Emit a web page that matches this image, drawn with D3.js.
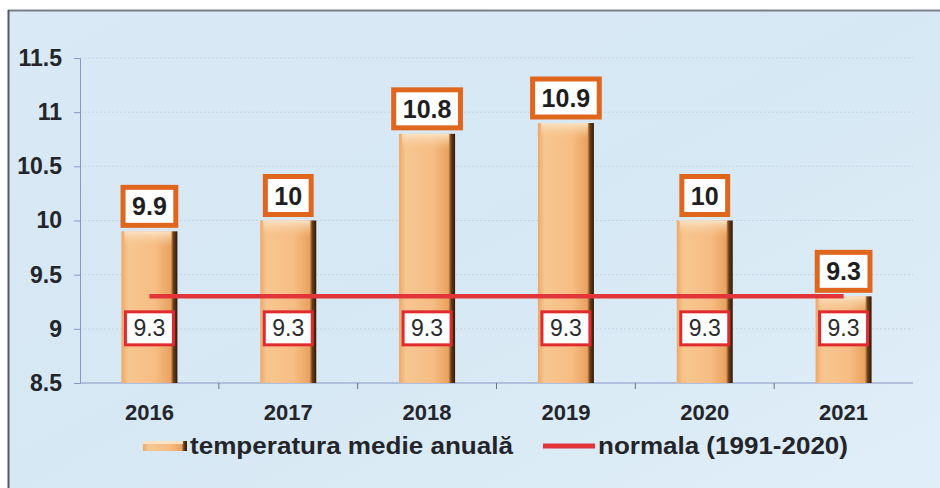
<!DOCTYPE html>
<html><head><meta charset="utf-8">
<script src="https://cdn.jsdelivr.net/npm/d3@7"></script>
<style>
html,body{margin:0;padding:0;background:#fff;}
svg{display:block;}
</style></head>
<body>
<svg id="chart" width="940" height="488"></svg>
<script>
const years = ["2016","2017","2018","2019","2020","2021"];
const tempValues = [9.9, 10, 10.8, 10.9, 10, 9.3];
const normalValues = [9.3, 9.3, 9.3, 9.3, 9.3, 9.3];
const yTicks = [8.5, 9, 9.5, 10, 10.5, 11, 11.5];
const seriesNames = ["temperatura medie anuală", "normala (1991-2020)"];

const FONT = "Liberation Sans, Arial, sans-serif";
const svg = d3.select("#chart");
const W = 940, H = 488;
const m = {left: 80, right: 27, top: 58, bottom: 105};
const xc = d3.scaleBand().domain(years).range([m.left, W - m.right]);
const y = d3.scaleLinear().domain([8.5, 11.5]).range([H - m.bottom, m.top]);

const defs = svg.append("defs");
const bg = defs.append("linearGradient").attr("id","bg").attr("x1",0).attr("y1",0).attr("x2",1).attr("y2",1);
bg.append("stop").attr("offset","0%").attr("stop-color","#d9e9f5");
bg.append("stop").attr("offset","50%").attr("stop-color","#d6e8f4");
bg.append("stop").attr("offset","100%").attr("stop-color","#e0eef8");
const bar = defs.append("linearGradient").attr("id","bar").attr("x1",0).attr("y1",0).attr("x2",1).attr("y2",0);
bar.append("stop").attr("offset","0%").attr("stop-color","#eea868");
bar.append("stop").attr("offset","12%").attr("stop-color","#f7c690");
bar.append("stop").attr("offset","60%").attr("stop-color","#f6bd84");
bar.append("stop").attr("offset","88%").attr("stop-color","#e9a260");
bar.append("stop").attr("offset","93%").attr("stop-color","#6a3d18");
bar.append("stop").attr("offset","100%").attr("stop-color","#2e1a08");
const barTop = defs.append("linearGradient").attr("id","barTop").attr("x1",0).attr("y1",0).attr("x2",0).attr("y2",1);
barTop.append("stop").attr("offset","0%").attr("stop-color","#fbe2c4");
barTop.append("stop").attr("offset","100%").attr("stop-color","#f7c690").attr("stop-opacity",0);

// background + frame
svg.append("rect").attr("x",0).attr("y",0).attr("width",W).attr("height",H).attr("fill","#fff");
svg.append("rect").attr("x",8).attr("y",10).attr("width",W-8).attr("height",H-10).attr("fill","url(#bg)");
svg.append("line").attr("x1",8).attr("x2",W).attr("y1",10.5).attr("y2",10.5).attr("stroke","#7a7f88").attr("stroke-width",2);
svg.append("line").attr("x1",8.5).attr("x2",8.5).attr("y1",10).attr("y2",H).attr("stroke","#555a60").attr("stroke-width",2);

// gridlines
svg.append("g").selectAll("line").data(yTicks.slice(1)).join("line")
  .attr("x1", m.left).attr("x2", W - m.right)
  .attr("y1", d => y(d)).attr("y2", d => y(d))
  .attr("stroke", "#c4d2e6").attr("stroke-width", 1).attr("stroke-dasharray","2,2");

// y axis
const yAxis = d3.axisLeft(y).tickValues(yTicks).tickSize(6).tickFormat(d => String(d));
const gy = svg.append("g").attr("transform", `translate(${m.left},0)`).call(yAxis);
gy.select(".domain").attr("stroke","#8a96c8");
gy.selectAll(".tick line").attr("stroke","#8a96c8");
gy.selectAll(".tick text").attr("x",-18).attr("font-family",FONT)
  .attr("font-size",23).attr("font-weight","bold").attr("fill","#23252b");

// x axis
const gx = svg.append("g").attr("transform", `translate(0,${H - m.bottom})`);
gx.append("line").attr("x1", m.left).attr("x2", W - m.right).attr("stroke","#8a96c8").attr("stroke-width",1.2);
gx.selectAll("line.tk").data(years.slice(1)).join("line").attr("class","tk")
  .attr("x1", d => xc(d)).attr("x2", d => xc(d)).attr("y1",0).attr("y2",6).attr("stroke","#6a7080");
gx.selectAll("text").data(years).join("text")
  .attr("x", d => xc(d) + xc.bandwidth()/2).attr("y", 37)
  .attr("text-anchor","middle").attr("font-family",FONT)
  .attr("font-size",22).attr("font-weight","bold").attr("fill","#23252b").text(d => d);

// bars
const bw = 56;
const bars = svg.append("g").selectAll("g").data(years).join("g");
bars.append("rect")
  .attr("x", (d) => xc(d) + xc.bandwidth()/2 - bw/2)
  .attr("y", (d,i) => y(tempValues[i]))
  .attr("width", bw)
  .attr("height", (d,i) => y(8.5) - y(tempValues[i]))
  .attr("fill","url(#bar)");
bars.append("rect")
  .attr("x", (d) => xc(d) + xc.bandwidth()/2 - bw/2 + 3)
  .attr("y", (d,i) => y(tempValues[i]))
  .attr("width", bw - 9)
  .attr("height", 16)
  .attr("fill","url(#barTop)");

// normal line
const line = d3.line().x((d,i) => xc(years[i]) + xc.bandwidth()/2).y(d => y(d));
svg.append("path").datum(normalValues).attr("d", line)
  .attr("fill","none").attr("stroke","#e2353a").attr("stroke-width",4.5);

// labels helper
function labelBox(g, cx, cy, txt, opts) {
  const t = g.append("text").attr("x", cx).attr("y", cy).attr("text-anchor","middle")
    .attr("dominant-baseline","central").attr("font-family",FONT)
    .attr("font-size", opts.size).attr("font-weight", opts.weight).attr("fill", opts.color).text(txt);
  const bb = t.node().getBBox();
  const w = Math.max(bb.width + opts.padX*2, opts.minW);
  g.insert("rect", "text").attr("x", cx - w/2).attr("y", cy - opts.h/2).attr("width", w).attr("height", opts.h)
    .attr("fill","#fff").attr("stroke", opts.stroke).attr("stroke-width", opts.sw);
}
const lg = svg.append("g");
years.forEach((yr, i) => {
  const cx = xc(yr) + xc.bandwidth()/2;
  const g = lg.append("g");
  labelBox(g, cx, y(tempValues[i]) - 25, String(tempValues[i]),
    {size: 25, weight: "bold", color: "#1e1e22", padX: 9, minW: 44, h: 38, stroke: "#e0661e", sw: 5});
});
years.forEach((yr, i) => {
  const cx = xc(yr) + xc.bandwidth()/2;
  const g = lg.append("g");
  labelBox(g, cx, y(normalValues[i]) + 32, String(normalValues[i]),
    {size: 23, weight: "normal", color: "#2a2a2e", padX: 8, minW: 48, h: 33, stroke: "#e02a2e", sw: 3});
});

// legend
const leg = svg.append("g");
leg.append("rect").attr("x",143).attr("y",441).attr("width",44).attr("height",10).attr("fill","url(#bar)");
leg.append("rect").attr("x",143).attr("y",441).attr("width",40).attr("height",3).attr("fill","#fbe2c4");
leg.append("text").attr("x",190).attr("y",454).attr("font-family",FONT)
  .attr("font-size",23).attr("font-weight","bold").attr("fill","#23252b")
  .attr("textLength",323).attr("lengthAdjust","spacingAndGlyphs").text(seriesNames[0]);
leg.append("line").attr("x1",543).attr("x2",595).attr("y1",446).attr("y2",446).attr("stroke","#e2353a").attr("stroke-width",5);
leg.append("text").attr("x",598).attr("y",454).attr("font-family",FONT)
  .attr("font-size",23).attr("font-weight","bold").attr("fill","#23252b")
  .attr("textLength",250).attr("lengthAdjust","spacingAndGlyphs").text(seriesNames[1]);
</script>
</body></html>
